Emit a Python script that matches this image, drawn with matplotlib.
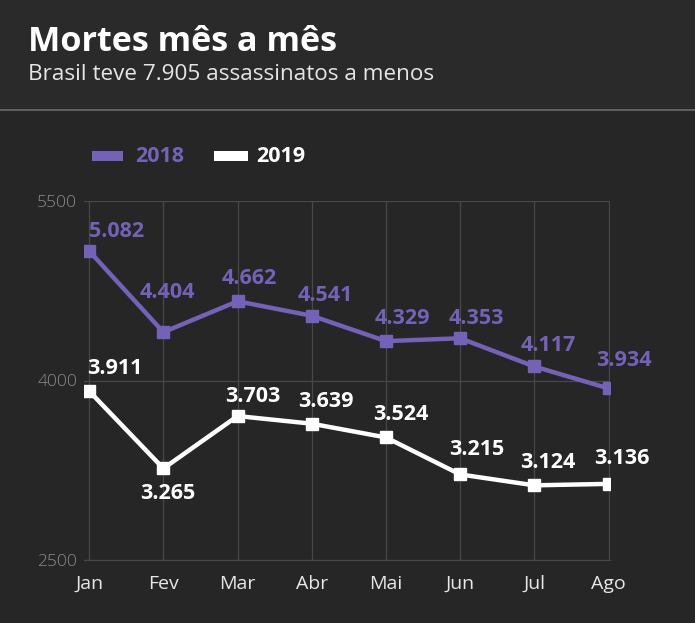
import matplotlib
matplotlib.use('Agg')
import matplotlib.pyplot as plt
from matplotlib.patches import Rectangle

# Dados
meses = ['Jan', 'Fev', 'Mar', 'Abr', 'Mai', 'Jun', 'Jul', 'Ago']
mortes_2018 = [5082, 4404, 4662, 4541, 4329, 4353, 4117, 3934]
mortes_2019 = [3911, 3265, 3703, 3639, 3524, 3215, 3124, 3136]
y_ticks = [2500, 4000, 5500]

# deslocamento dos rótulos (pixels)
off_2018 = [(27, 20), (4, 40), (12, 23), (14, 20), (16, 23), (16, 20), (14, 21), (15, 28)]
off_2019 = [(26, 23), (4, -25), (15, 20), (14, 22), (15, 23), (17, 25), (13, 23), (13, 25)]

BG = '#262626'
ROXO = '#7462b8'
BRANCO = '#ffffff'

plt.rcParams['font.family'] = ['Open Sans', 'DejaVu Sans']

fig = plt.figure(figsize=(6.95, 6.23), dpi=100)
fig.patch.set_facecolor(BG)

# cabeçalho
fig.patches.append(Rectangle((0, 1 - 109 / 623), 1, 109 / 623, transform=fig.transFigure,
                             facecolor='#2a2a2a', edgecolor='none', zorder=0))
fig.lines.append(plt.Line2D([0, 1], [1 - 110 / 623] * 2, transform=fig.transFigure,
                            color='#6a6a6a', lw=1.2))
fig.text(28 / 695, 1 - 51 / 623, 'Mortes mês a mês', color='white', fontsize=24.6,
         fontweight='bold', ha='left', va='baseline')
fig.text(28 / 695, 1 - 80 / 623, 'Brasil teve 7.905 assassinatos a menos', color='#e6e6e6',
         fontsize=16.2, ha='left', va='baseline')

# legenda
fig.patches.append(Rectangle((92 / 695, 1 - 161 / 623), 31 / 695, 10 / 623,
                             transform=fig.transFigure, facecolor=ROXO, edgecolor='none'))
fig.text(135 / 695, 1 - 156 / 623, '2018', color=ROXO, fontsize=15.5, fontweight='bold',
         ha='left', va='center')
fig.patches.append(Rectangle((214 / 695, 1 - 161 / 623), 34 / 695, 10 / 623,
                             transform=fig.transFigure, facecolor=BRANCO, edgecolor='none'))
fig.text(256 / 695, 1 - 156 / 623, '2019', color=BRANCO, fontsize=15.5, fontweight='bold',
         ha='left', va='center')

ax = fig.add_axes([84 / 695, 1 - 560 / 623, (610 - 84) / 695, (560 - 201) / 623])
ax.set_facecolor('none')

x = range(len(meses))
ax.plot(x, mortes_2018, color=ROXO, lw=3.2, marker='s', markersize=8, zorder=3)
ax.plot(x, mortes_2019, color=BRANCO, lw=3.2, marker='s', markersize=8, zorder=3)

for i, v in enumerate(mortes_2018):
    ax.annotate(f'{v:,}'.replace(',', '.'), (i, v), xytext=off_2018[i], textcoords='offset pixels',
                ha='center', va='center', color=ROXO, fontsize=15.5, fontweight='bold')
for i, v in enumerate(mortes_2019):
    ax.annotate(f'{v:,}'.replace(',', '.'), (i, v), xytext=off_2019[i], textcoords='offset pixels',
                ha='center', va='center', color=BRANCO, fontsize=15.5, fontweight='bold')

ax.set_xlim(-0.07, 7.02)
ax.set_ylim(2500, 5500)
ax.set_xticks(list(x))
ax.set_xticklabels(meses, color='#e8e8e8', fontsize=14)
ax.set_yticks(y_ticks)
ax.set_yticklabels([str(t) for t in y_ticks], color='#8c8c8c', fontsize=12.5,
                   fontweight='light')
ax.tick_params(length=0, pad=5)
ax.tick_params(axis='x', pad=11)
ax.grid(True, color='#484848', lw=0.9)
ax.set_axisbelow(True)
for s in ax.spines.values():
    s.set_visible(False)
ax.spines['bottom'].set_visible(True)
ax.spines['bottom'].set_color('#484848')

fig.savefig('out.png', dpi=100, facecolor=BG)
